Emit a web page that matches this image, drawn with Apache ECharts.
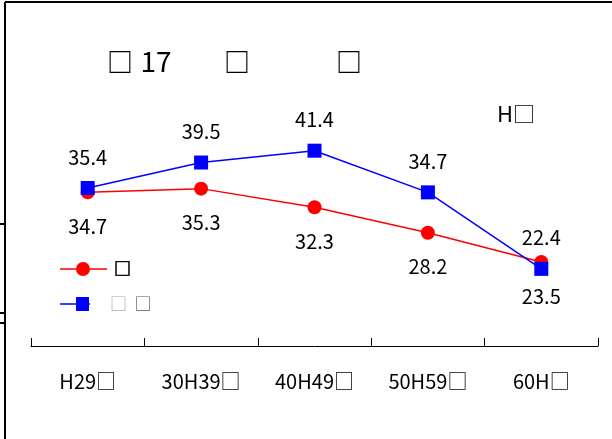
<!DOCTYPE html>
<html>
<head>
<meta charset="utf-8">
<style>
  html, body { margin: 0; padding: 0; background: #fff; }
  #chart { width: 612px; height: 439px; }
</style>
<script src="https://cdn.jsdelivr.net/npm/echarts@6/dist/echarts.min.js"></script>
</head>
<body>
<div id="chart"></div>
<script>
// Age bands on the horizontal axis
const categories = ['H29□', '30H39□', '40H49□', '50H59□', '60H□'];
// Red series (circle markers), labels below
const seriesRed = [34.7, 35.3, 32.3, 28.2, 23.5];
// Blue series (square markers), labels above
const seriesBlue = [35.4, 39.5, 41.4, 34.7, 22.4];
// Series names shown in the legend
const nameRed = '□';
const nameBlue = '□ □';

const FONT = '"Noto Sans CJK JP", "Liberation Sans", sans-serif';

// Legend keys: a line with the series marker on it
const ICON_RED = 'path://M0,6.2 H16 V7.8 H0 Z M30,6.2 H47 V7.8 H30 Z M16,7 A7,7 0 1,1 30,7 A7,7 0 1,1 16,7 Z';
const ICON_BLUE = 'path://M0,6.2 H16 V7.8 H0 Z M16,0 H29 V14 H16 Z M29,6.2 H30 V7.8 H29 Z';

const chart = echarts.init(document.getElementById('chart'), null, { renderer: 'canvas' });

function headText(x, y, text, size, weight) {
  return {
    type: 'text', x: x, y: y,
    style: {
      text: text, fill: '#000',
      font: (weight || 'normal') + ' ' + size + 'px ' + FONT,
      align: 'center', verticalAlign: 'middle'
    }
  };
}

chart.setOption({
  animation: false,
  backgroundColor: '#ffffff',
  grid: { left: 31, right: 14, top: 35, bottom: 93 },
  xAxis: {
    type: 'category',
    data: categories,
    boundaryGap: true,
    axisLine: { lineStyle: { color: '#000', width: 1 } },
    axisTick: { show: true, inside: true, length: 8, lineStyle: { color: '#000' } },
    axisLabel: { color: '#000', fontSize: 20, lineHeight: 20, fontFamily: FONT, margin: 25 },
    splitLine: { show: false }
  },
  yAxis: {
    type: 'value',
    min: 10,
    max: 60,
    show: false
  },
  legend: [
    {
      data: [{ name: nameRed, icon: ICON_RED }],
      orient: 'vertical',
      left: 60, top: 260,
      padding: 0,
      itemWidth: 47, itemHeight: 14,
      itemStyle: { color: '#ff0000' },
      textStyle: {
        color: '#000', fontSize: 17, lineHeight: 18, fontFamily: FONT, fontWeight: 'bold',
        textBorderColor: '#000', textBorderWidth: 0.6, padding: [0, 0, 0, 2]
      }
    },
    {
      data: [{ name: nameBlue, icon: ICON_BLUE }],
      orient: 'vertical',
      left: 60, top: 295,
      padding: 0,
      itemWidth: 30, itemHeight: 14,
      itemStyle: { color: '#0000ff' },
      formatter: () => '{a|□}  {b|□}',
      textStyle: {
        fontSize: 17, lineHeight: 18, fontFamily: FONT, padding: [0, 0, 0, 15],
        rich: {
          a: { color: '#aaa', fontSize: 17, lineHeight: 18, fontFamily: FONT },
          b: { color: '#555', fontSize: 17, lineHeight: 18, fontFamily: FONT }
        }
      }
    }
  ],
  series: [
    {
      name: nameRed,
      type: 'line',
      data: seriesRed,
      symbol: 'circle',
      symbolSize: 14,
      itemStyle: { color: '#ff0000' },
      lineStyle: { color: '#ff0000', width: 1.5 },
      label: {
        show: true, position: 'bottom', distance: 17,
        color: '#000', fontSize: 20, fontFamily: FONT,
        formatter: p => p.value.toFixed(1)
      },
      z: 2
    },
    {
      name: nameBlue,
      type: 'line',
      data: seriesBlue,
      symbol: 'rect',
      symbolSize: 14,
      itemStyle: { color: '#0000ff' },
      lineStyle: { color: '#0000ff', width: 1.5 },
      label: {
        show: true, position: 'top', distance: 14,
        color: '#000', fontSize: 20, fontFamily: FONT,
        formatter: p => p.value.toFixed(1)
      },
      z: 3
    }
  ],
  graphic: [
    // outer frame: top and left edges
    { type: 'line', shape: { x1: 5, y1: 2, x2: 612, y2: 2 }, style: { stroke: '#000', lineWidth: 2 } },
    { type: 'line', shape: { x1: 5, y1: 2, x2: 5, y2: 439 }, style: { stroke: '#000', lineWidth: 2 } },
    { type: 'line', shape: { x1: 0, y1: 224, x2: 5, y2: 224 }, style: { stroke: '#000', lineWidth: 2 } },
    { type: 'line', shape: { x1: 0, y1: 313, x2: 5, y2: 313 }, style: { stroke: '#000', lineWidth: 2 } },
    { type: 'line', shape: { x1: 0, y1: 323, x2: 5, y2: 323 }, style: { stroke: '#000', lineWidth: 2 } },
    // heading texts
    headText(120, 62, '□', 26, 'bold'),
    headText(156, 61, '17', 28, 'normal'),
    headText(237, 62, '□', 26, 'bold'),
    headText(349, 62, '□', 26, 'bold'),
    headText(505, 114, 'H', 22, 'normal'),
    headText(524, 114, '□', 22, 'normal')
  ]
});
</script>
</body>
</html>
